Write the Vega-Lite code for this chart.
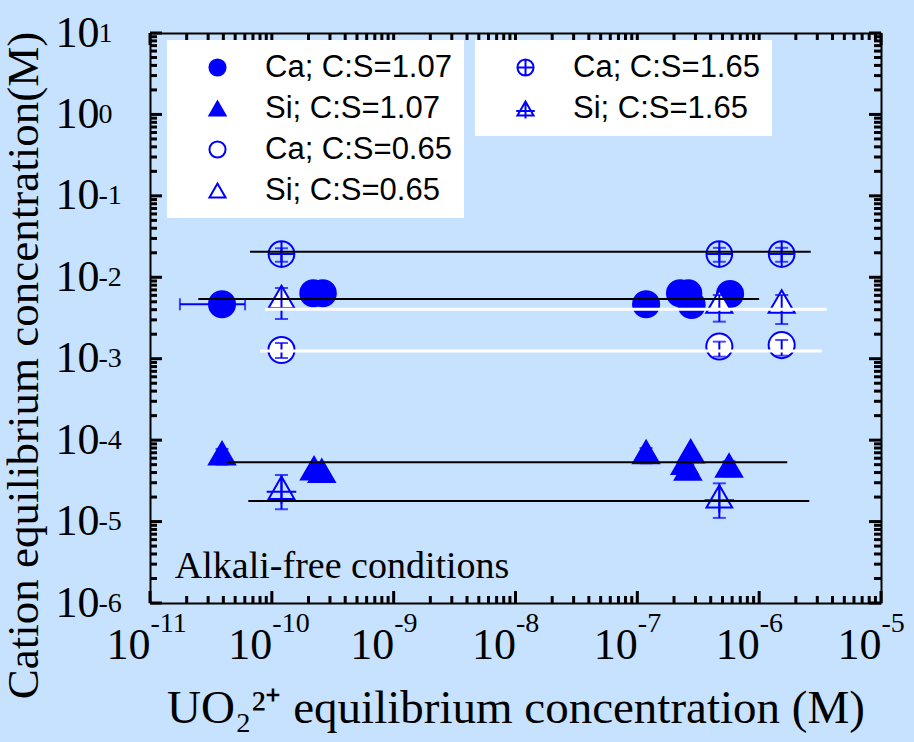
{
  "$schema": "https://vega.github.io/schema/vega-lite/v6.json",
  "width": 731,
  "height": 570,
  "autosize": "none",
  "padding": {"left": 150, "top": 33, "right": 33, "bottom": 139},
  "background": "#c6e2ff",
  "view": {"stroke": null},
  "config": {
    "axis": {
      "domainColor": "black", "domainWidth": 2, "ticks": false, "grid": false,
      "labelFont": "Liberation Serif", "labelFontSize": 44, "labelColor": "black",
      "titleFont": "Liberation Serif", "titleFontSize": 45, "titleFontWeight": "normal", "titleColor": "black",
      "labelOverlap": false, "labelFlush": false, "labelBound": false
    }
  },
  "datasets": {
    "ptsA": [
      {"series": "Ca; C:S=1.07", "x": 3.9e-11, "y": 4.66e-3},
      {"series": "Ca; C:S=1.07", "x": 2.19e-10, "y": 6.36e-3},
      {"series": "Ca; C:S=1.07", "x": 2.62e-10, "y": 6.36e-3},
      {"series": "Ca; C:S=1.07", "x": 1.18e-7, "y": 4.67e-3},
      {"series": "Ca; C:S=1.07", "x": 2.24e-7, "y": 6.36e-3},
      {"series": "Ca; C:S=1.07", "x": 2.62e-7, "y": 6.36e-3},
      {"series": "Ca; C:S=1.07", "x": 2.79e-7, "y": 4.57e-3},
      {"series": "Ca; C:S=1.07", "x": 5.77e-7, "y": 6.24e-3},
      {"series": "Si; C:S=1.07", "x": 3.9e-11, "y": 6.9e-5},
      {"series": "Si; C:S=1.07", "x": 2.22e-10, "y": 4.51e-5},
      {"series": "Si; C:S=1.07", "x": 2.57e-10, "y": 4.21e-5},
      {"series": "Si; C:S=1.07", "x": 1.18e-7, "y": 7.15e-5},
      {"series": "Si; C:S=1.07", "x": 2.45e-7, "y": 5.3e-5},
      {"series": "Si; C:S=1.07", "x": 2.6e-7, "y": 4.5e-5},
      {"series": "Si; C:S=1.07", "x": 2.74e-7, "y": 7.3e-5},
      {"series": "Si; C:S=1.07", "x": 5.66e-7, "y": 4.89e-5},
      {"series": "Ca; C:S=0.65", "x": 1.2e-10, "y": 1.28e-3},
      {"series": "Ca; C:S=0.65", "x": 4.71e-7, "y": 1.41e-3},
      {"series": "Ca; C:S=0.65", "x": 1.53e-6, "y": 1.47e-3},
      {"series": "Si; C:S=0.65", "x": 1.2e-10, "y": 5.73e-3},
      {"series": "Si; C:S=0.65", "x": 4.71e-7, "y": 5.04e-3},
      {"series": "Si; C:S=0.65", "x": 1.53e-6, "y": 5.04e-3}
    ],
    "ptsB": [
      {"series": "Ca; C:S=1.65", "x": 1.2e-10, "y": 1.93e-2},
      {"series": "Ca; C:S=1.65", "x": 4.71e-7, "y": 1.93e-2},
      {"series": "Ca; C:S=1.65", "x": 1.53e-6, "y": 1.93e-2},
      {"series": "Si; C:S=1.65", "x": 1.2e-10, "y": 2.6e-5},
      {"series": "Si; C:S=1.65", "x": 4.71e-7, "y": 2.04e-5}
    ],
    "vbars": [
      {"x": 1.2e-10, "lo": 1.55e-2, "hi": 2.28e-2},
      {"x": 4.71e-7, "lo": 1.55e-2, "hi": 2.3e-2},
      {"x": 1.53e-6, "lo": 1.55e-2, "hi": 2.3e-2},
      {"x": 1.2e-10, "lo": 1.02e-3, "hi": 1.56e-3},
      {"x": 4.71e-7, "lo": 1.06e-3, "hi": 1.62e-3},
      {"x": 1.53e-6, "lo": 1.09e-3, "hi": 1.7e-3},
      {"x": 1.2e-10, "lo": 3.08e-3, "hi": 7.39e-3},
      {"x": 4.71e-7, "lo": 2.85e-3, "hi": 6.06e-3},
      {"x": 1.53e-6, "lo": 2.67e-3, "hi": 6.06e-3},
      {"x": 1.2e-10, "lo": 1.42e-5, "hi": 3.73e-5},
      {"x": 4.71e-7, "lo": 1.11e-5, "hi": 2.95e-5},
      {"x": 3.9e-11, "lo": 5.0e-5, "hi": 7.8e-5},
      {"x": 1.18e-7, "lo": 5.2e-5, "hi": 8.0e-5},
      {"x": 2.6e-7, "lo": 3.6e-5, "hi": 5.0e-5},
      {"x": 5.66e-7, "lo": 3.6e-5, "hi": 5.5e-5}
    ],
    "hbars": [
      {"lo": 1.76e-11, "hi": 6.03e-11, "y": 4.66e-3}
    ],
    "blackLines": [
      {"x1": 6.62e-11, "x2": 2.65e-6, "y": 2.06e-2},
      {"x1": 2.49e-11, "x2": 1.0e-6, "y": 5.41e-3},
      {"x1": 4.26e-11, "x2": 1.7e-6, "y": 5.35e-5},
      {"x1": 6.41e-11, "x2": 2.58e-6, "y": 1.79e-5}
    ],
    "whiteLines": [
      {"x1": 8.79e-11, "x2": 3.58e-6, "y": 4.05e-3},
      {"x1": 8.0e-11, "x2": 3.26e-6, "y": 1.24e-3}
    ],
    "notes": [
      {"label": "Alkali-free conditions", "x": 1.6e-11, "y": 2.03e-6}
    ],
    "xMajor": [{"v": 1e-11}, {"v": 1e-10}, {"v": 1e-9}, {"v": 1e-8}, {"v": 1e-7}, {"v": 1e-6}, {"v": 1e-5}],
    "xMinor": [{"v":2e-11},{"v":3e-11},{"v":4e-11},{"v":5e-11},{"v":6e-11},{"v":7e-11},{"v":8e-11},{"v":9e-11},{"v":2e-10},{"v":3e-10},{"v":4e-10},{"v":5e-10},{"v":6e-10},{"v":7e-10},{"v":8e-10},{"v":9e-10},{"v":2e-9},{"v":3e-9},{"v":4e-9},{"v":5e-9},{"v":6e-9},{"v":7e-9},{"v":8e-9},{"v":9e-9},{"v":2e-8},{"v":3e-8},{"v":4e-8},{"v":5e-8},{"v":6e-8},{"v":7e-8},{"v":8e-8},{"v":9e-8},{"v":2e-7},{"v":3e-7},{"v":4e-7},{"v":5e-7},{"v":6e-7},{"v":7e-7},{"v":8e-7},{"v":9e-7},{"v":2e-6},{"v":3e-6},{"v":4e-6},{"v":5e-6},{"v":6e-6},{"v":7e-6},{"v":8e-6},{"v":9e-6}],
    "yMajor": [{"v": 1e-6}, {"v": 1e-5}, {"v": 1e-4}, {"v": 1e-3}, {"v": 1e-2}, {"v": 0.1}, {"v": 1}, {"v": 10}],
    "yMinor": [{"v":2e-6},{"v":3e-6},{"v":4e-6},{"v":5e-6},{"v":6e-6},{"v":7e-6},{"v":8e-6},{"v":9e-6},{"v":2e-5},{"v":3e-5},{"v":4e-5},{"v":5e-5},{"v":6e-5},{"v":7e-5},{"v":8e-5},{"v":9e-5},{"v":2e-4},{"v":3e-4},{"v":4e-4},{"v":5e-4},{"v":6e-4},{"v":7e-4},{"v":8e-4},{"v":9e-4},{"v":2e-3},{"v":3e-3},{"v":4e-3},{"v":5e-3},{"v":6e-3},{"v":7e-3},{"v":8e-3},{"v":9e-3},{"v":2e-2},{"v":3e-2},{"v":4e-2},{"v":5e-2},{"v":6e-2},{"v":7e-2},{"v":8e-2},{"v":9e-2},{"v":0.2},{"v":0.3},{"v":0.4},{"v":0.5},{"v":0.6},{"v":0.7},{"v":0.8},{"v":0.9},{"v":2},{"v":3},{"v":4},{"v":5},{"v":6},{"v":7},{"v":8},{"v":9}]
  },
  "layer": [
    {
      "data": {"name": "ptsA"},
      "mark": {"type": "point", "filled": true, "opacity": 1, "strokeWidth": 2, "size": 680},
      "encoding": {
        "x": {
          "field": "x", "type": "quantitative",
          "scale": {"type": "log", "domain": [1e-11, 1e-5], "nice": false},
          "axis": {
            "orient": "bottom",
            "values": [1e-11, 1e-10, 1e-9, 1e-8, 1e-7, 1e-6, 1e-5],
            "labelExpr": "'10'",
            "labelAlign": "right", "labelDx": 5, "labelBaseline": "top",
            "labelPadding": 20,
            "title": "UO₂²⁺ equilibrium concentration (M)",
            "titleFontSize": 47,
            "titleBaseline": "alphabetic",
            "titleY": 119
          }
        },
        "y": {
          "field": "y", "type": "quantitative",
          "scale": {"type": "log", "domain": [1e-6, 10], "nice": false},
          "axis": {
            "orient": "left",
            "values": [1e-6, 1e-5, 1e-4, 1e-3, 1e-2, 0.1, 1, 10],
            "labelExpr": "'10'",
            "labelAlign": "right", "labelBaseline": "middle", "labelDy": 5,
            "labelPadding": 51,
            "title": "Cation equilibrium concentration(M)",
            "titleAngle": -90,
            "titleAlign": "center",
            "titleBaseline": "alphabetic",
            "titleX": -113,
            "titleY": 332
          }
        },
        "shape": {
          "field": "series", "type": "nominal",
          "scale": {"domain": ["Ca; C:S=1.07", "Si; C:S=1.07", "Ca; C:S=0.65", "Si; C:S=0.65"], "range": ["circle", "triangle-up", "circle", "triangle-up"]},
          "legend": {
            "orient": "none", "legendX": 17, "legendY": 7, "title": null,
            "fillColor": "white", "padding": 12,
            "labelFont": "Liberation Sans", "labelFontSize": 31, "labelColor": "black", "labelLimit": 0,
            "symbolSize": 260, "symbolStrokeWidth": 2,
            "symbolOffset": 23, "labelOffset": 32, "rowPadding": 9
          }
        },
        "fill": {
          "field": "series", "type": "nominal",
          "scale": {"domain": ["Ca; C:S=1.07", "Si; C:S=1.07", "Ca; C:S=0.65", "Si; C:S=0.65"], "range": ["#0000ff", "#0000ff", "white", "white"]}
        },
        "stroke": {
          "field": "series", "type": "nominal",
          "scale": {"domain": ["Ca; C:S=1.07", "Si; C:S=1.07", "Ca; C:S=0.65", "Si; C:S=0.65"], "range": ["#0000ff", "#0000ff", "#0000ff", "#0000ff"]}
        }
      }
    },
    {
      "data": {"name": "ptsB"},
      "mark": {"type": "point", "filled": false, "opacity": 1, "stroke": "#0000ff", "strokeWidth": 2, "size": 660},
      "encoding": {
        "x": {
          "field": "x", "type": "quantitative",
          "scale": {"type": "log", "domain": [1e-11, 1e-5], "nice": false},
          "axis": {"orient": "top", "labels": false, "title": null, "values": [1e-11, 1e-5]}
        },
        "y": {
          "field": "y", "type": "quantitative",
          "scale": {"type": "log", "domain": [1e-6, 10], "nice": false},
          "axis": {"orient": "right", "labels": false, "title": null, "values": [1e-6, 10]}
        },
        "shape": {
          "field": "series", "type": "nominal",
          "scale": {"domain": ["Ca; C:S=1.65", "Si; C:S=1.65"], "range": ["M-1,0A1,1,0,1,1,1,0A1,1,0,1,1,-1,0ZM-1,0L1,0M0,-1L0,1", "M0,-0.87L-1,0.87L1,0.87ZM-1.15,0.3L1.15,0.3M0,-0.87L0,1.25"]},
          "legend": {
            "orient": "none", "legendX": 325, "legendY": 7, "title": null,
            "fillColor": "white", "padding": 12,
            "labelFont": "Liberation Sans", "labelFontSize": 31, "labelColor": "black", "labelLimit": 0,
            "symbolSize": 260, "symbolStrokeWidth": 2, "symbolStrokeColor": "#0000ff", "symbolFillColor": "transparent",
            "symbolOffset": 23, "labelOffset": 32, "rowPadding": 9
          }
        }
      }
    },
    {
      "data": {"name": "vbars"},
      "mark": {"type": "errorbar", "ticks": true, "size": 13, "thickness": 2, "color": "#0000ff"},
      "encoding": {
        "x": {"field": "x", "type": "quantitative", "scale": {"type": "log", "domain": [1e-11, 1e-5], "nice": false}, "axis": null},
        "y": {"field": "lo", "type": "quantitative", "scale": {"type": "log", "domain": [1e-6, 10], "nice": false}, "axis": null},
        "y2": {"field": "hi"}
      }
    },
    {
      "data": {"name": "hbars"},
      "mark": {"type": "errorbar", "ticks": true, "size": 12, "thickness": 2, "color": "#0000ff"},
      "encoding": {
        "x": {"field": "lo", "type": "quantitative", "scale": {"type": "log", "domain": [1e-11, 1e-5], "nice": false}, "axis": null},
        "x2": {"field": "hi"},
        "y": {"field": "y", "type": "quantitative", "scale": {"type": "log", "domain": [1e-6, 10], "nice": false}, "axis": null}
      }
    },
    {
      "data": {"name": "blackLines"},
      "mark": {"type": "rule", "color": "black", "strokeWidth": 2},
      "encoding": {
        "x": {"field": "x1", "type": "quantitative", "scale": {"type": "log", "domain": [1e-11, 1e-5], "nice": false}, "axis": null},
        "x2": {"field": "x2"},
        "y": {"field": "y", "type": "quantitative", "scale": {"type": "log", "domain": [1e-6, 10], "nice": false}, "axis": null}
      }
    },
    {
      "data": {"name": "whiteLines"},
      "mark": {"type": "rule", "color": "white", "strokeWidth": 3},
      "encoding": {
        "x": {"field": "x1", "type": "quantitative", "scale": {"type": "log", "domain": [1e-11, 1e-5], "nice": false}, "axis": null},
        "x2": {"field": "x2"},
        "y": {"field": "y", "type": "quantitative", "scale": {"type": "log", "domain": [1e-6, 10], "nice": false}, "axis": null}
      }
    },
    {
      "data": {"name": "xMajor"},
      "mark": {"type": "tick", "orient": "vertical", "size": 12, "thickness": 3, "color": "#000000", "opacity": 1, "yOffset": -6},
      "encoding": {
        "x": {"field": "v", "type": "quantitative", "scale": {"type": "log", "domain": [1e-11, 1e-5], "nice": false}, "axis": null},
        "y": {"datum": 1e-6, "type": "quantitative", "scale": {"type": "log", "domain": [1e-6, 10], "nice": false}, "axis": null}
      }
    },
    {
      "data": {"name": "xMajor"},
      "mark": {"type": "tick", "orient": "vertical", "size": 12, "thickness": 3, "color": "#000000", "opacity": 1, "yOffset": 6},
      "encoding": {
        "x": {"field": "v", "type": "quantitative", "scale": {"type": "log", "domain": [1e-11, 1e-5], "nice": false}, "axis": null},
        "y": {"datum": 10, "type": "quantitative", "scale": {"type": "log", "domain": [1e-6, 10], "nice": false}, "axis": null}
      }
    },
    {
      "data": {"name": "xMinor"},
      "mark": {"type": "tick", "orient": "vertical", "size": 7, "thickness": 3, "color": "#000000", "opacity": 1, "yOffset": -3.5},
      "encoding": {
        "x": {"field": "v", "type": "quantitative", "scale": {"type": "log", "domain": [1e-11, 1e-5], "nice": false}, "axis": null},
        "y": {"datum": 1e-6, "type": "quantitative", "scale": {"type": "log", "domain": [1e-6, 10], "nice": false}, "axis": null}
      }
    },
    {
      "data": {"name": "xMinor"},
      "mark": {"type": "tick", "orient": "vertical", "size": 7, "thickness": 3, "color": "#000000", "opacity": 1, "yOffset": 3.5},
      "encoding": {
        "x": {"field": "v", "type": "quantitative", "scale": {"type": "log", "domain": [1e-11, 1e-5], "nice": false}, "axis": null},
        "y": {"datum": 10, "type": "quantitative", "scale": {"type": "log", "domain": [1e-6, 10], "nice": false}, "axis": null}
      }
    },
    {
      "data": {"name": "yMajor"},
      "mark": {"type": "tick", "orient": "horizontal", "size": 12, "thickness": 3, "color": "#000000", "opacity": 1, "xOffset": 6},
      "encoding": {
        "y": {"field": "v", "type": "quantitative", "scale": {"type": "log", "domain": [1e-6, 10], "nice": false}, "axis": null},
        "x": {"datum": 1e-11, "type": "quantitative", "scale": {"type": "log", "domain": [1e-11, 1e-5], "nice": false}, "axis": null}
      }
    },
    {
      "data": {"name": "yMajor"},
      "mark": {"type": "tick", "orient": "horizontal", "size": 12, "thickness": 3, "color": "#000000", "opacity": 1, "xOffset": -6},
      "encoding": {
        "y": {"field": "v", "type": "quantitative", "scale": {"type": "log", "domain": [1e-6, 10], "nice": false}, "axis": null},
        "x": {"datum": 1e-5, "type": "quantitative", "scale": {"type": "log", "domain": [1e-11, 1e-5], "nice": false}, "axis": null}
      }
    },
    {
      "data": {"name": "yMinor"},
      "mark": {"type": "tick", "orient": "horizontal", "size": 7, "thickness": 3, "color": "#000000", "opacity": 1, "xOffset": 3.5},
      "encoding": {
        "y": {"field": "v", "type": "quantitative", "scale": {"type": "log", "domain": [1e-6, 10], "nice": false}, "axis": null},
        "x": {"datum": 1e-11, "type": "quantitative", "scale": {"type": "log", "domain": [1e-11, 1e-5], "nice": false}, "axis": null}
      }
    },
    {
      "data": {"name": "yMinor"},
      "mark": {"type": "tick", "orient": "horizontal", "size": 7, "thickness": 3, "color": "#000000", "opacity": 1, "xOffset": -3.5},
      "encoding": {
        "y": {"field": "v", "type": "quantitative", "scale": {"type": "log", "domain": [1e-6, 10], "nice": false}, "axis": null},
        "x": {"datum": 1e-5, "type": "quantitative", "scale": {"type": "log", "domain": [1e-11, 1e-5], "nice": false}, "axis": null}
      }
    },
    {
      "data": {"name": "notes"},
      "mark": {"type": "text", "align": "left", "baseline": "alphabetic", "font": "Liberation Serif", "fontSize": 38, "color": "black"},
      "encoding": {
        "x": {"field": "x", "type": "quantitative", "scale": {"type": "log", "domain": [1e-11, 1e-5], "nice": false},
          "axis": {"orient": "bottom", "values": [1e-11, 1e-10, 1e-9, 1e-8, 1e-7, 1e-6, 1e-5], "domain": false, "title": null,
            "labelExpr": "'' + round(log(datum.value)/LN10)", "labelFontSize": 28, "labelAlign": "left", "labelDx": 6, "labelBaseline": "top", "labelPadding": 6}},
        "y": {"field": "y", "type": "quantitative", "scale": {"type": "log", "domain": [1e-6, 10], "nice": false},
          "axis": {"orient": "left", "values": [1e-6, 1e-5, 1e-4, 1e-3, 1e-2, 0.1, 1, 10], "domain": false, "title": null,
            "labelExpr": "'' + round(log(datum.value)/LN10)", "labelFontSize": 28, "labelAlign": "left", "labelBaseline": "middle", "labelDy": -9, "labelPadding": 52}},
        "text": {"field": "label"}
      }
    }
  ],
  "resolve": {
    "scale": {"shape": "independent", "fill": "independent", "stroke": "independent"},
    "axis": {"x": "independent", "y": "independent"}
  }
}
